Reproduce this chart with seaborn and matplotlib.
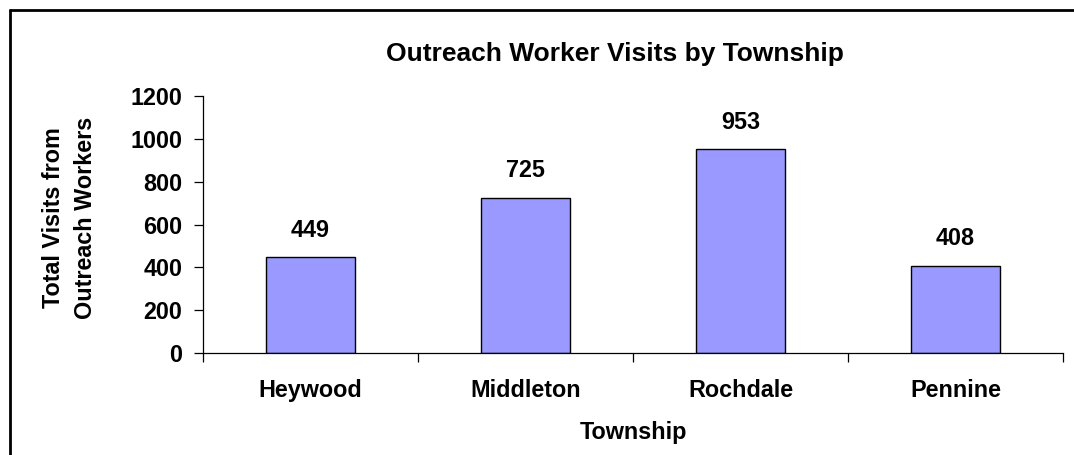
import matplotlib
matplotlib.use("Agg")
import matplotlib.pyplot as plt
from matplotlib.lines import Line2D
import seaborn as sns
import pandas as pd

townships = ["Heywood", "Middleton", "Rochdale", "Pennine"]
visits = [449, 725, 953, 408]
y_ticks = [0, 200, 400, 600, 800, 1000, 1200]

sns.set_theme(style="white")
plt.rcParams["font.family"] = ["Liberation Sans", "DejaVu Sans"]
plt.rcParams["font.weight"] = "bold"
plt.rcParams["text.color"] = "black"
plt.rcParams["axes.labelcolor"] = "black"
plt.rcParams["xtick.color"] = "black"
plt.rcParams["ytick.color"] = "black"

W, H = 1074, 455
fig = plt.figure(figsize=(W / 100, H / 100), dpi=100)
ax = fig.add_axes([203 / W, 1 - 353 / H, (1063 - 203) / W, (353 - 96) / H])

df = pd.DataFrame({"Township": townships, "Visits": visits})
sns.barplot(data=df, x="Township", y="Visits", color="#9999FF", saturation=1,
            edgecolor="black", linewidth=1.0, width=0.41, ax=ax)

fs = 16.8
ax.set_xlim(-0.5, len(townships) - 0.5)
ax.set_ylim(0, 1200)
ax.set_yticks(y_ticks)
ax.set_yticklabels([str(t) for t in y_ticks], fontsize=fs, fontweight="bold", color="black")
ax.set_xticks([i - 0.5 for i in range(len(townships) + 1)])
ax.set_xticklabels([])
ax.set_xticks(range(len(townships)), minor=True)
ax.set_xticklabels(townships, minor=True, fontsize=fs, fontweight="bold", color="black")
ax.tick_params(axis="x", which="major", direction="out", length=6.5, width=0.9, color="black", bottom=True)
ax.tick_params(axis="x", which="minor", length=0, pad=19, bottom=True)
ax.tick_params(axis="y", direction="out", length=6.5, width=0.9, color="black", pad=8.5, left=True)
ax.set_xlabel("")
ax.set_ylabel("")
for s in ["top", "right"]:
    ax.spines[s].set_visible(False)
for s in ["left", "bottom"]:
    ax.spines[s].set_color("black")
    ax.spines[s].set_linewidth(0.9)

for c in ax.containers:
    ax.bar_label(c, labels=[str(v) for v in visits], padding=11, fontsize=fs,
                 fontweight="bold", color="black")

fig.text(615 / W, 1 - 54 / H, "Outreach Worker Visits by Township", ha="center", va="center",
         fontsize=19, fontweight="bold", color="black")
fig.text(634 / W, 1 - 433 / H, "Township", ha="center", va="center", fontsize=fs,
         fontweight="bold", color="black")
fig.text(54 / W, 1 - 218 / H, "Total Visits from", rotation=90, ha="center", va="center",
         fontsize=fs, fontweight="bold", color="black")
fig.text(86 / W, 1 - 218 / H, "Outreach Workers", rotation=90, ha="center", va="center",
         fontsize=fs, fontweight="bold", color="black")

# outer chart border (top and left visible)
fig.add_artist(Line2D([9.5 / W, 1.0], [1 - 9.5 / H, 1 - 9.5 / H], transform=fig.transFigure,
                      color="black", linewidth=2))
fig.add_artist(Line2D([9.5 / W, 9.5 / W], [1 - 9.5 / H, 0.0], transform=fig.transFigure,
                      color="black", linewidth=2))

fig.savefig("out.png", dpi=100)
